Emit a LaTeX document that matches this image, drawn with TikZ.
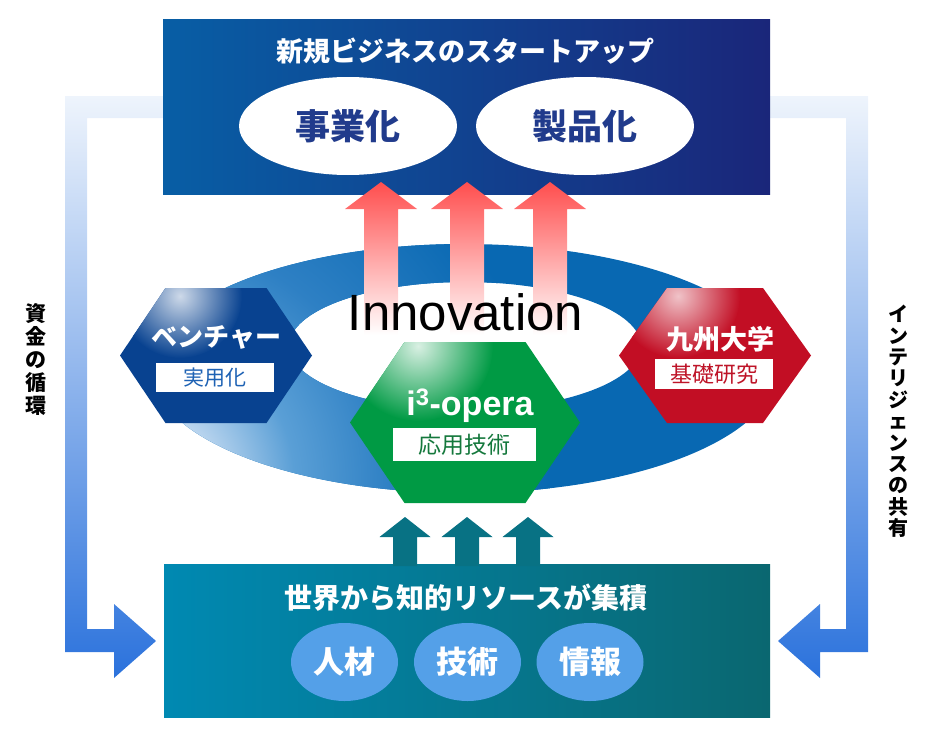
\documentclass[tikz,border=0pt]{standalone}
\usepackage{fontspec}
\setmainfont{Noto Sans CJK JP}
\newfontfamily\lat{Liberation Sans}
\usetikzlibrary{shapes.geometric}
\newcommand\fsz[1]{\fontsize{#1}{#1}\selectfont}
\definecolor{topL}{RGB}{8,94,165}
\definecolor{topR}{RGB}{26,38,122}
\definecolor{botL}{RGB}{0,137,178}
\definecolor{botR}{RGB}{10,103,112}
\definecolor{sideA}{RGB}{238,244,252}
\definecolor{sideB}{RGB}{43,114,220}
\definecolor{ellTxt}{RGB}{33,59,140}
\definecolor{smallEll}{RGB}{84,160,232}
\definecolor{tealArr}{RGB}{8,114,132}
\definecolor{arrR}{RGB}{255,78,78}
\definecolor{ring0}{RGB}{219,233,247}
\definecolor{ringA}{RGB}{188,214,239}
\definecolor{ringC}{RGB}{90,159,214}
\definecolor{ringD}{RGB}{46,128,196}
\definecolor{ringF}{RGB}{8,104,178}
\definecolor{hexB}{RGB}{8,66,144}
\definecolor{hexR}{RGB}{194,14,36}
\definecolor{hexG}{RGB}{0,154,68}
\definecolor{lblB}{RGB}{30,98,180}
\definecolor{lblR}{RGB}{190,20,40}
\definecolor{lblG}{RGB}{20,120,60}
\pgfdeclareradialshading{ringglow}{\pgfpoint{0bp}{0bp}}{color(0bp)=(ring0); color(4bp)=(ringA); color(9bp)=(ringC); color(15bp)=(ringD); color(25bp)=(ringF); color(50bp)=(ringF)}
\begin{document}
\begin{tikzpicture}[x=1pt,y=-1pt,
  boxnode/.style={inner sep=0pt, outer sep=0pt, shade, shading angle=90},
  bigell/.style={ellipse, fill=white, minimum width=218pt, minimum height=98pt, inner sep=0pt, text=ellTxt, font=\fsz{35}\bfseries},
  smell/.style={ellipse, fill=smallEll, minimum width=107pt, minimum height=78pt, inner sep=0pt, text=white, font=\fsz{31}\bfseries},
  titletxt/.style={text=white, font=\fsz{27}\bfseries, inner sep=0pt},
  hextitle/.style={text=white, font=\fsz{26}\bfseries, inner sep=0pt},
  lblbox/.style={fill=white, inner sep=0pt},
  sidetxt/.style={align=center, inner sep=0pt},
]
\useasboundingbox (0,0) rectangle (931,736);

% side arrows
\shade[top color=sideA, bottom color=sideB] (170,96) -- (65,96) -- (65,652) -- (114,652) -- (114,678) -- (156,641) -- (114,604) -- (114,629) -- (87,629) -- (87,118) -- (170,118) -- cycle;
\shade[top color=sideA, bottom color=sideB] (763,96) -- (868,96) -- (868,652) -- (820,652) -- (820,678) -- (778,641) -- (820,604) -- (820,629) -- (846,629) -- (846,118) -- (763,118) -- cycle;

\node[sidetxt, font=\fontsize{21}{23}\selectfont\bfseries] (fund) at (36,359.5) {資\\金\\の\\循\\環};
\node[sidetxt, font=\fontsize{20}{21.4}\selectfont\bfseries] (intel) at (898,421.5) {イ\\ン\\テ\\リ\\ジ\\ェ\\ン\\ス\\の\\共\\有};

% top box
\node[boxnode, left color=topL, right color=topR, minimum width=607pt, minimum height=175pt] (topbox) at (466.5,106.5) {};
\node[titletxt] (toptitle) at (465,51) {新規ビジネスのスタートアップ};
\node[bigell] (jigyo) at (348,126) {事業化};
\node[bigell] (seihin) at (585,126) {製品化};

% bottom box
\node[boxnode, left color=botL, right color=botR, minimum width=606pt, minimum height=153pt] (botbox) at (467,640.5) {};
\node[titletxt, font=\fsz{28}\bfseries] (bottitle) at (466,598) {世界から知的リソースが集積};
\node[smell] (jinzai) at (344.5,662) {人材};
\node[smell] (gijutsu) at (467.5,662) {技術};
\node[smell] (joho) at (590,662) {情報};

% teal arrows
\foreach \cx in {405,467,528}
  \fill[tealArr] (\cx-12,566) -- (\cx-12,537) -- (\cx-25.5,537) -- (\cx,517) -- (\cx+25.5,537) -- (\cx+12,537) -- (\cx+12,566) -- cycle;

% ring
\fill[ringF, even odd rule] (464,368.5) ellipse [x radius=313pt, y radius=124.5pt] (465,346) ellipse [x radius=176pt, y radius=64pt];
\begin{scope}[even odd rule]
  \clip (464,368.5) ellipse [x radius=313pt, y radius=124.5pt] (465,346) ellipse [x radius=176pt, y radius=64pt];
  \shade[shading=ringglow] (150,480) circle (400pt);
\end{scope}

% red arrows
\foreach \cx in {381,467,550}
  \shade[top color=arrR, middle color=arrR!50!white, bottom color=white] (\cx-17,335) -- (\cx-17,209) -- (\cx-36,209) -- (\cx,182) -- (\cx+36,209) -- (\cx+17,209) -- (\cx+17,335) -- cycle;

\node[font=\lat\fsz{51}, inner sep=0pt, anchor=base] (innov) at (465.5,330) {Innovation};

% blue hexagon
\begin{scope}
  \clip (120,355.5) -- (165.5,288) -- (266.5,288) -- (312,355.5) -- (266.5,423) -- (165.5,423) -- cycle;
  \fill[hexB] (110,280) rectangle (320,430);
  \shade[inner color=white!80!hexB, outer color=hexB] (180,296) circle (62pt);
\end{scope}
\node[hextitle] (venture) at (216.5,337) {ベンチャー};
\node[lblbox, minimum width=118pt, minimum height=29pt, text=lblB, font=\fsz{21}] (jitsuyo) at (215,377.5) {実用化};

% red hexagon
\begin{scope}
  \clip (619,355.5) -- (667,288) -- (763,288) -- (811,355.5) -- (763,423) -- (667,423) -- cycle;
  \fill[hexR] (610,280) rectangle (820,430);
  \shade[inner color=white!75!hexR, outer color=hexR] (678,296) circle (62pt);
\end{scope}
\node[hextitle, font=\fsz{27}\bfseries] (kyudai) at (720,339) {九州大学};
\node[lblbox, minimum width=118pt, minimum height=30pt, text=lblR, font=\fsz{22}] (kiso) at (714,374) {基礎研究};

% green hexagon
\begin{scope}
  \clip (350,422.5) -- (404.5,342) -- (525.5,342) -- (580,422.5) -- (525.5,503) -- (404.5,503) -- cycle;
  \fill[hexG] (340,335) rectangle (590,510);
  \shade[inner color=white!85!hexG, outer color=hexG] (418,346) circle (75pt);
\end{scope}
\node[text=white, font=\lat\bfseries\fsz{34}, inner sep=0pt, anchor=base] (iopera) at (470,415) {i\textsuperscript{3}-opera};
\node[lblbox, minimum width=143pt, minimum height=33pt, text=lblG, font=\fsz{23}] (oyo) at (464.5,444.5) {応用技術};
\end{tikzpicture}
\end{document}
